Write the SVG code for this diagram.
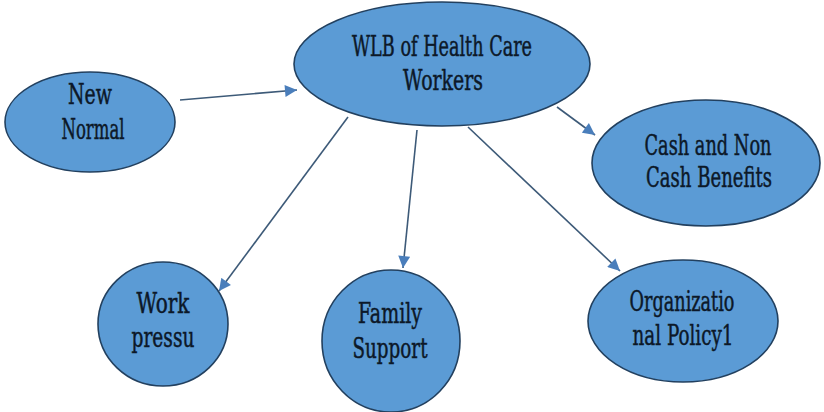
<svg xmlns="http://www.w3.org/2000/svg" width="824" height="412" viewBox="0 0 824 412">
<style>
.n{fill:#5b9bd5;stroke:#22405f;stroke-width:1.6}
.t{font-family:"DejaVu Serif","Liberation Serif",serif;font-size:27px;fill:#0c1828;stroke:#0c1828;stroke-width:0.5;text-anchor:middle}
.c{stroke:#3d5a78;stroke-width:1.6;fill:none;marker-end:url(#ah)}
</style>
<defs>
<marker id="ah" viewBox="0 0 10 10" refX="10" refY="5" markerWidth="13" markerHeight="12" markerUnits="userSpaceOnUse" orient="auto">
<path d="M0,0 L10,5 L0,10 Z" fill="#4a7ebb"/>
</marker>
</defs>
<rect width="824" height="412" fill="#ffffff"/>
<g id="connectors">
<line class="c" x1="180" y1="100" x2="297" y2="90"/>
<line class="c" x1="557" y1="107" x2="595" y2="135"/>
<line class="c" x1="348" y1="117" x2="219" y2="291"/>
<line class="c" x1="417" y1="130" x2="403" y2="268"/>
<line class="c" x1="468" y1="127" x2="620" y2="271"/>
</g>
<g id="new-normal">
<ellipse class="n" cx="90" cy="122" rx="85" ry="50"/>
<text class="t" x="90" y="104" textLength="44" lengthAdjust="spacingAndGlyphs">New</text>
<text class="t" x="93" y="139" textLength="63" lengthAdjust="spacingAndGlyphs">Normal</text>
</g>
<g id="wlb">
<ellipse class="n" cx="442" cy="64" rx="148" ry="62"/>
<text class="t" x="442" y="56" textLength="180" lengthAdjust="spacingAndGlyphs">WLB of Health Care</text>
<text class="t" x="443" y="90" textLength="80" lengthAdjust="spacingAndGlyphs">Workers</text>
</g>
<g id="cash">
<ellipse class="n" cx="706" cy="163" rx="114" ry="63"/>
<text class="t" x="708" y="155" textLength="127" lengthAdjust="spacingAndGlyphs">Cash and Non</text>
<text class="t" x="709" y="187" textLength="126" lengthAdjust="spacingAndGlyphs">Cash Benefits</text>
</g>
<g id="work-pressure">
<ellipse class="n" cx="163" cy="324" rx="65" ry="62"/>
<text class="t" x="163" y="313" textLength="53" lengthAdjust="spacingAndGlyphs">Work</text>
<text class="t" x="163" y="347" textLength="63" lengthAdjust="spacingAndGlyphs">pressu</text>
</g>
<g id="family-support">
<ellipse class="n" cx="391" cy="341" rx="69" ry="71"/>
<text class="t" x="390" y="323" textLength="64" lengthAdjust="spacingAndGlyphs">Family</text>
<text class="t" x="390" y="358" textLength="75" lengthAdjust="spacingAndGlyphs">Support</text>
</g>
<g id="org-policy">
<ellipse class="n" cx="683" cy="321" rx="95" ry="61"/>
<text class="t" x="682" y="311" textLength="105" lengthAdjust="spacingAndGlyphs">Organizatio</text>
<text class="t" x="683" y="345" textLength="101" lengthAdjust="spacingAndGlyphs">nal Policy1</text>
</g>
</svg>
